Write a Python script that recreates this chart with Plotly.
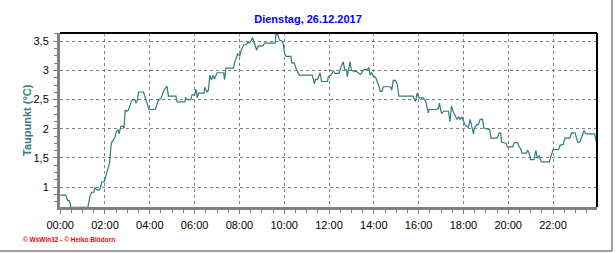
import plotly.graph_objects as go

DATE = "2017-12-26"
TITLE = "Dienstag, 26.12.2017"
Y_TITLE = "Taupunkt (°C)"
FOOTER = "© WsWin32 - © Heiko Blödorn"

times = [
    "00:00", "00:15", "00:20", "00:25", "00:29", "00:35", "01:14", "01:20", "01:25", "01:30",
    "01:33", "01:38", "01:45", "01:48", "01:52", "01:58", "02:05", "02:12", "02:17", "02:22",
    "02:27", "02:30", "02:35", "02:38", "02:42", "02:48", "02:51", "02:54", "02:58", "03:02",
    "03:08", "03:12", "03:20", "03:23", "03:27", "03:30", "03:43", "03:50", "03:58", "04:15",
    "04:20", "04:23", "04:30", "04:38", "04:46", "04:50", "05:10", "05:13", "05:34", "05:36",
    "05:40", "05:50", "05:53", "06:00", "06:04", "06:07", "06:11", "06:25", "06:27", "06:33",
    "06:37", "06:41", "06:45", "06:50", "06:53", "07:00", "07:18", "07:20", "07:24", "07:44",
    "07:48", "07:55", "08:01", "08:05", "08:12", "08:18", "08:22", "08:27", "08:31", "08:35",
    "08:40", "08:46", "08:51", "09:03", "09:07", "09:36", "09:38", "09:43", "09:47", "09:53",
    "09:57", "10:01", "10:05", "10:18", "10:20", "10:27", "10:31", "10:36", "10:40", "11:15",
    "11:18", "11:21", "11:24", "11:29", "11:36", "11:40", "11:56", "11:58", "12:05", "12:12",
    "12:16", "12:27", "12:31", "12:38", "12:42", "12:47", "12:49", "12:53", "12:56", "13:00",
    "13:14", "13:20", "13:25", "13:32", "13:43", "13:47", "13:50", "13:54", "13:59", "14:05",
    "14:10", "14:14", "14:17", "14:22", "14:25", "14:45", "14:48", "14:52", "14:58", "15:03",
    "15:07", "15:45", "15:49", "15:52", "15:56", "16:01", "16:12", "16:19", "16:24", "16:26",
    "16:28", "16:48", "16:53", "16:56", "16:59", "17:02", "17:07", "17:20", "17:24", "17:28",
    "17:33", "17:38", "17:43", "17:47", "17:51", "17:56", "18:00", "18:05", "18:09", "18:13",
    "18:18", "18:22", "18:27", "18:29", "18:36", "18:40", "18:45", "18:51", "18:55", "19:08",
    "19:10", "19:14", "19:30", "19:36", "19:40", "19:42", "19:54", "19:58", "20:12", "20:16",
    "20:25", "20:30", "20:33", "20:37", "20:49", "20:52", "20:56", "21:00", "21:09", "21:14",
    "21:18", "21:23", "21:26", "21:29", "21:50", "21:55", "22:00", "22:15", "22:19", "22:27",
    "22:32", "22:45", "22:50", "22:59", "23:06", "23:12", "23:17", "23:23", "23:28", "23:51",
    "23:54", "23:57",
]
dewpoint = [
    0.86, 0.86, 0.77, 0.76, 0.65, 0.65, 0.65, 0.85, 0.91, 0.91,
    0.99, 0.95, 0.95, 1.00, 1.09, 1.09, 1.25, 1.41, 1.75, 1.81,
    1.86, 1.95, 1.98, 1.91, 2.04, 2.04, 2.01, 2.32, 2.30, 2.31,
    2.40, 2.49, 2.50, 2.44, 2.49, 2.63, 2.63, 2.50, 2.33, 2.33,
    2.45, 2.49, 2.52, 2.66, 2.73, 2.56, 2.56, 2.46, 2.46, 2.54,
    2.50, 2.50, 2.58, 2.58, 2.68, 2.53, 2.61, 2.61, 2.71, 2.63,
    2.66, 2.92, 2.84, 2.92, 2.85, 2.96, 2.96, 2.84, 3.04, 3.04,
    3.15, 3.28, 3.25, 3.35, 3.44, 3.44, 3.48, 3.47, 3.51, 3.56,
    3.47, 3.35, 3.42, 3.42, 3.47, 3.47, 3.62, 3.62, 3.52, 3.51,
    3.47, 3.29, 3.24, 3.24, 3.13, 3.13, 3.04, 2.98, 2.92, 2.92,
    2.84, 2.77, 2.85, 2.84, 2.96, 2.81, 2.81, 2.89, 2.92, 2.99,
    2.95, 2.95, 3.04, 3.15, 3.01, 3.01, 2.89, 3.04, 3.15, 3.00,
    2.98, 2.95, 2.93, 3.01, 3.02, 3.05, 2.92, 2.96, 2.90, 2.88,
    2.81, 2.73, 2.64, 2.64, 2.72, 2.72, 2.66, 2.83, 2.83, 2.76,
    2.56, 2.56, 2.50, 2.47, 2.61, 2.53, 2.53, 2.47, 2.33, 2.27,
    2.33, 2.33, 2.35, 2.44, 2.32, 2.26, 2.30, 2.30, 2.12, 2.39,
    2.29, 2.23, 2.16, 2.21, 2.16, 2.20, 2.12, 2.06, 2.04, 2.02,
    2.16, 2.05, 1.91, 2.01, 2.07, 2.07, 2.16, 2.16, 2.01, 1.99,
    1.99, 1.84, 1.84, 1.93, 1.93, 1.77, 1.75, 1.69, 1.69, 1.76,
    1.76, 1.68, 1.66, 1.58, 1.58, 1.63, 1.58, 1.47, 1.47, 1.63,
    1.49, 1.54, 1.49, 1.43, 1.43, 1.54, 1.64, 1.64, 1.72, 1.73,
    1.84, 1.84, 1.93, 1.93, 1.77, 1.77, 1.87, 1.97, 1.91, 1.91,
    1.84, 1.75,
]
x_tick_step_hours = 2
y_ticks = [1, 1.5, 2, 2.5, 3, 3.5]

x = [f"{DATE} {t}" for t in times]

FONT = "Liberation Sans, Arial, sans-serif"
GRID = "#808080"

fig = go.Figure()
fig.add_trace(go.Scatter(
    x=x, y=dewpoint, mode="lines",
    line=dict(color="#2f7d78", width=1.2),
    hoverinfo="skip", showlegend=False,
))

fig.update_layout(
    width=616, height=253,
    margin=dict(l=60, r=19, t=33, b=46),
    paper_bgcolor="white", plot_bgcolor="white",
    separators=",.",
    font=dict(family=FONT, size=11, color="black"),
    title=dict(
        text=f"<b>{TITLE}</b>", x=0.5, xref="container", xanchor="center",
        y=1 - 19 / 253, yref="container", yanchor="middle",
        font=dict(family=FONT, size=11, color="#0000ff"),
    ),
    showlegend=False,
)

fig.update_xaxes(
    type="date",
    range=[f"2017-12-25 23:59:30", f"{DATE} 23:57:47"],
    dtick=x_tick_step_hours * 3600000,
    tick0=f"{DATE} 00:00",
    tickformat="%H:%M",
    showgrid=True, gridcolor=GRID, griddash="3px,3px", gridwidth=1,
    showline=True, linecolor=GRID, linewidth=3,
    ticks="outside", ticklen=4, tickcolor=GRID, tickwidth=1,
    ticklabelstandoff=2,
    minor=dict(dtick=1800000, ticks="outside", ticklen=3, tickcolor=GRID, showgrid=False),
    zeroline=False,
    tickfont=dict(family=FONT, size=11, color="black"),
)

fig.update_yaxes(
    range=[0.657, 3.642],
    tickvals=y_ticks,
    showgrid=True, gridcolor=GRID, griddash="3px,3px", gridwidth=1,
    showline=True, linecolor=GRID, linewidth=3,
    ticks="outside", ticklen=4, tickcolor=GRID, tickwidth=1,
    ticklabelstandoff=2,
    minor=dict(dtick=0.125, tick0=0.5, ticks="outside", ticklen=3, tickcolor=GRID, showgrid=False),
    zeroline=False,
    tickfont=dict(family=FONT, size=11, color="black"),
)

# black top and right frame of plot area
fig.add_shape(type="line", xref="paper", yref="paper", x0=0, x1=1, y0=1, y1=1,
              line=dict(color="black", width=2))
fig.add_shape(type="line", xref="paper", yref="paper", x0=1, x1=1, y0=0, y1=1,
              line=dict(color="black", width=2))
# outer grey frame (right and bottom)
fig.add_shape(type="line", xref="paper", yref="paper", x0=1.0279, x1=1.0279, y0=-0.2529, y1=1.19,
              line=dict(color="#a0a0a0", width=2))
fig.add_shape(type="line", xref="paper", yref="paper", x0=-0.12, x1=1.0279, y0=-0.2529, y1=-0.2529,
              line=dict(color="#a0a0a0", width=2))

fig.add_annotation(
    text=f"<b>{Y_TITLE}</b>", textangle=-90, showarrow=False,
    xref="paper", yref="paper", x=-0.0615, y=0.5, xanchor="center", yanchor="middle",
    font=dict(family=FONT, size=11, color="#2f7d78"),
)
fig.add_annotation(
    text=f"<b>{FOOTER}</b>", showarrow=False,
    xref="paper", yref="paper", x=-0.0726, y=-0.184, xanchor="left", yanchor="middle",
    font=dict(family=FONT, size=6.5, color="#ff0000"),
)

fig.write_html("out.html")
